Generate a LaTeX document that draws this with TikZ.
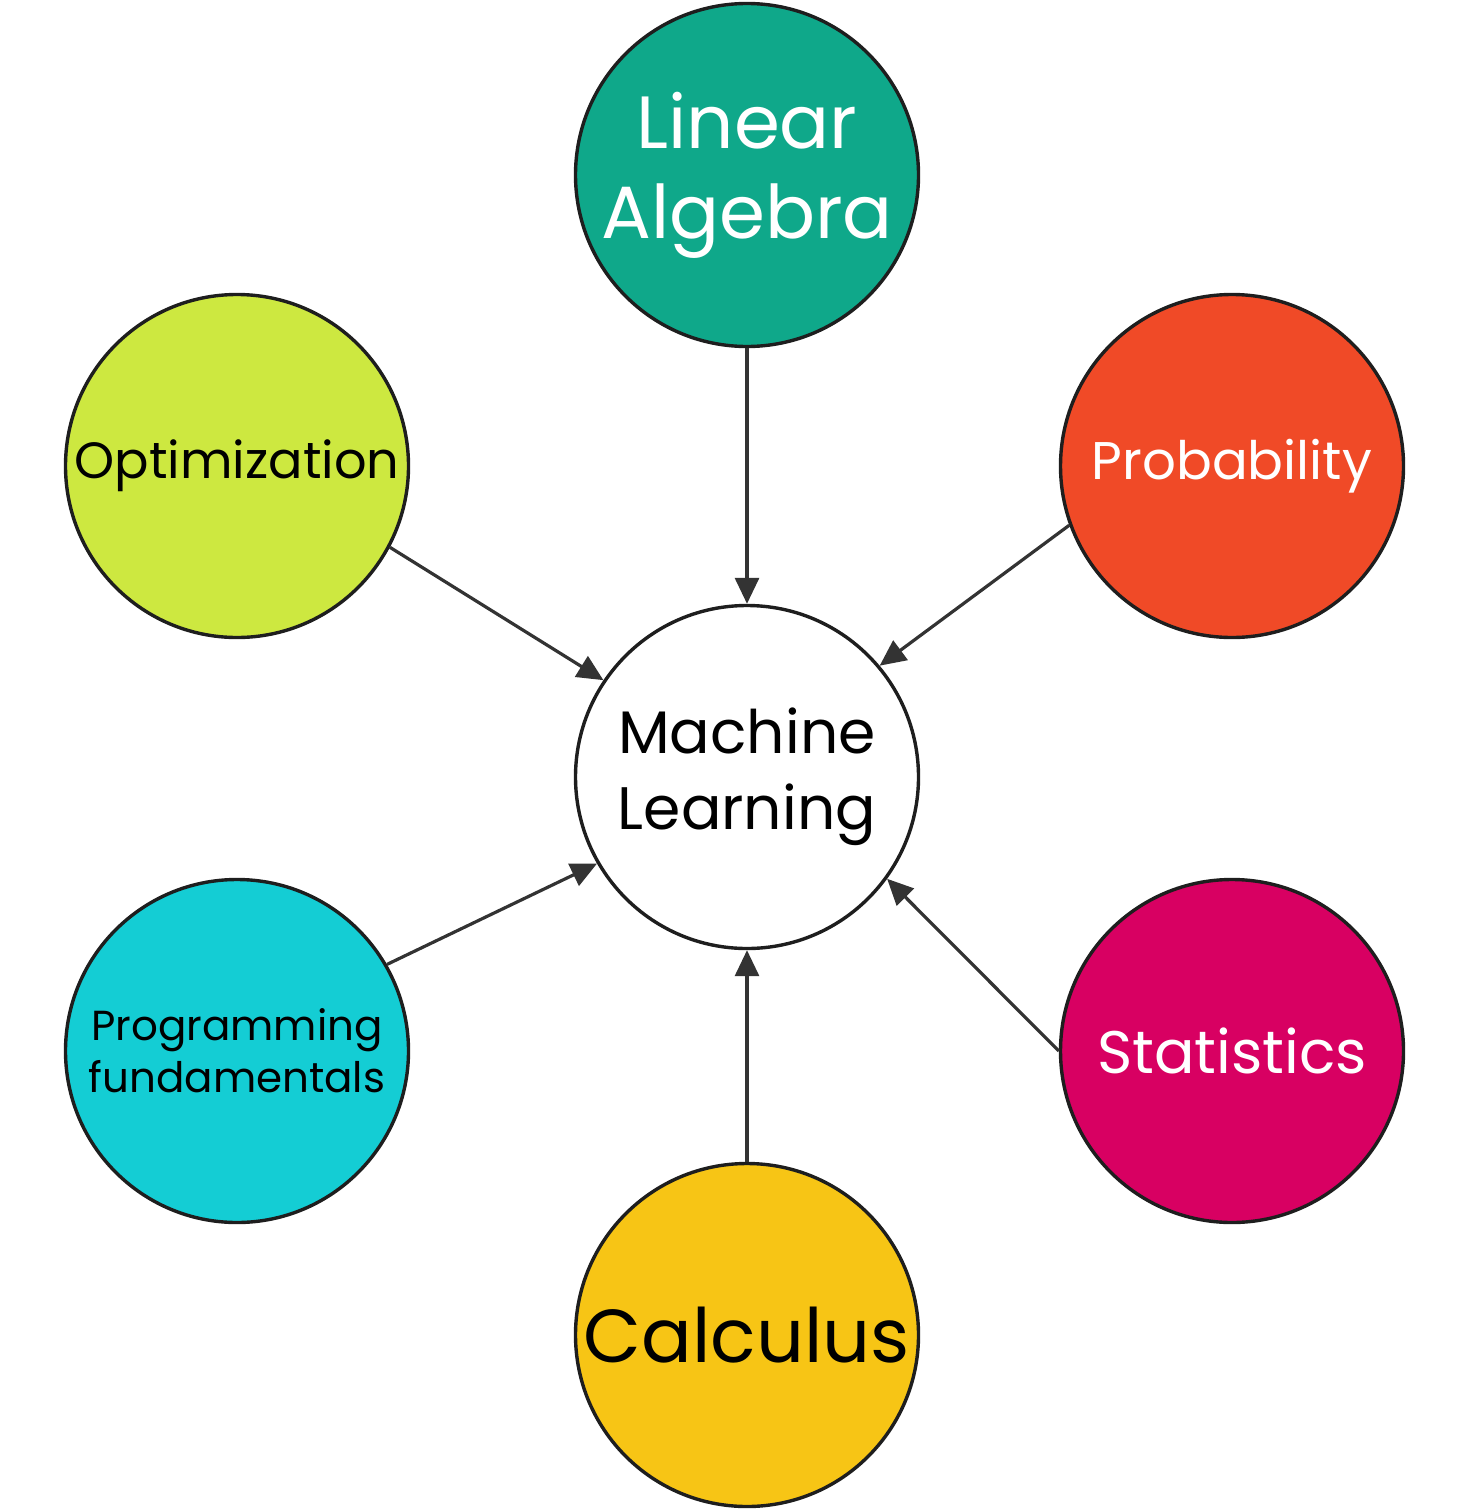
\documentclass[tikz,border=0pt]{standalone}
\usepackage{fontspec}
\setmainfont{Poppins}
\usetikzlibrary{arrows.meta}
\definecolor{cLA}{HTML}{0FA88A}
\definecolor{cPR}{HTML}{F04A27}
\definecolor{cOP}{HTML}{CDE840}
\definecolor{cPF}{HTML}{14CDD4}
\definecolor{cST}{HTML}{D80062}
\definecolor{cCA}{HTML}{F7C515}
\definecolor{edge}{HTML}{1E1E1E}
\definecolor{arr}{HTML}{333333}
\tikzset{
  bubble/.style={circle, draw=edge, line width=3.4pt, minimum size=343pt, inner sep=0pt, align=center},
  link/.style={draw=arr, line width=3.2pt, -{Triangle[length=26pt,width=24pt]}},
}
\begin{document}
\begin{tikzpicture}[x=1pt,y=-1pt]
\useasboundingbox (0,0) rectangle (1456,1509);
\node[bubble, fill=cLA, text=white, font=\fontsize{74}{90}\selectfont] (la) at (747,175) {Linear\\Algebra};
\node[bubble, fill=cPR, text=white, font=\fontsize{53}{60}\selectfont] (pr) at (1232,466) {Probability};
\node[bubble, fill=cOP, text=black, font=\fontsize{51}{60}\selectfont] (op) at (237,466) {Optimization};
\node[bubble, fill=white, text=black, font=\fontsize{60}{76}\selectfont] (ml) at (747,777) {Machine\\Learning};
\node[bubble, fill=cPF, text=black, font=\fontsize{42}{52}\selectfont] (pf) at (237,1051) {Programming\\fundamentals};
\node[bubble, fill=cST, text=white, font=\fontsize{60}{66}\selectfont] (st) at (1232,1051) {Statistics};
\node[bubble, fill=cCA, text=black, font=\fontsize{75}{80}\selectfont] (ca) at (747,1335) {Calculus};
\draw[link] (la.south) -- (ml.north);
\draw[link] (pr.200) -- (ml.40);
\draw[link] (op.-28) -- (ml.146);
\draw[link] (pf.30) -- (ml.210);
\draw[link] (st.west) -- (ml.-36);
\draw[link] (ca.north) -- (ml.south);
\end{tikzpicture}
\end{document}
